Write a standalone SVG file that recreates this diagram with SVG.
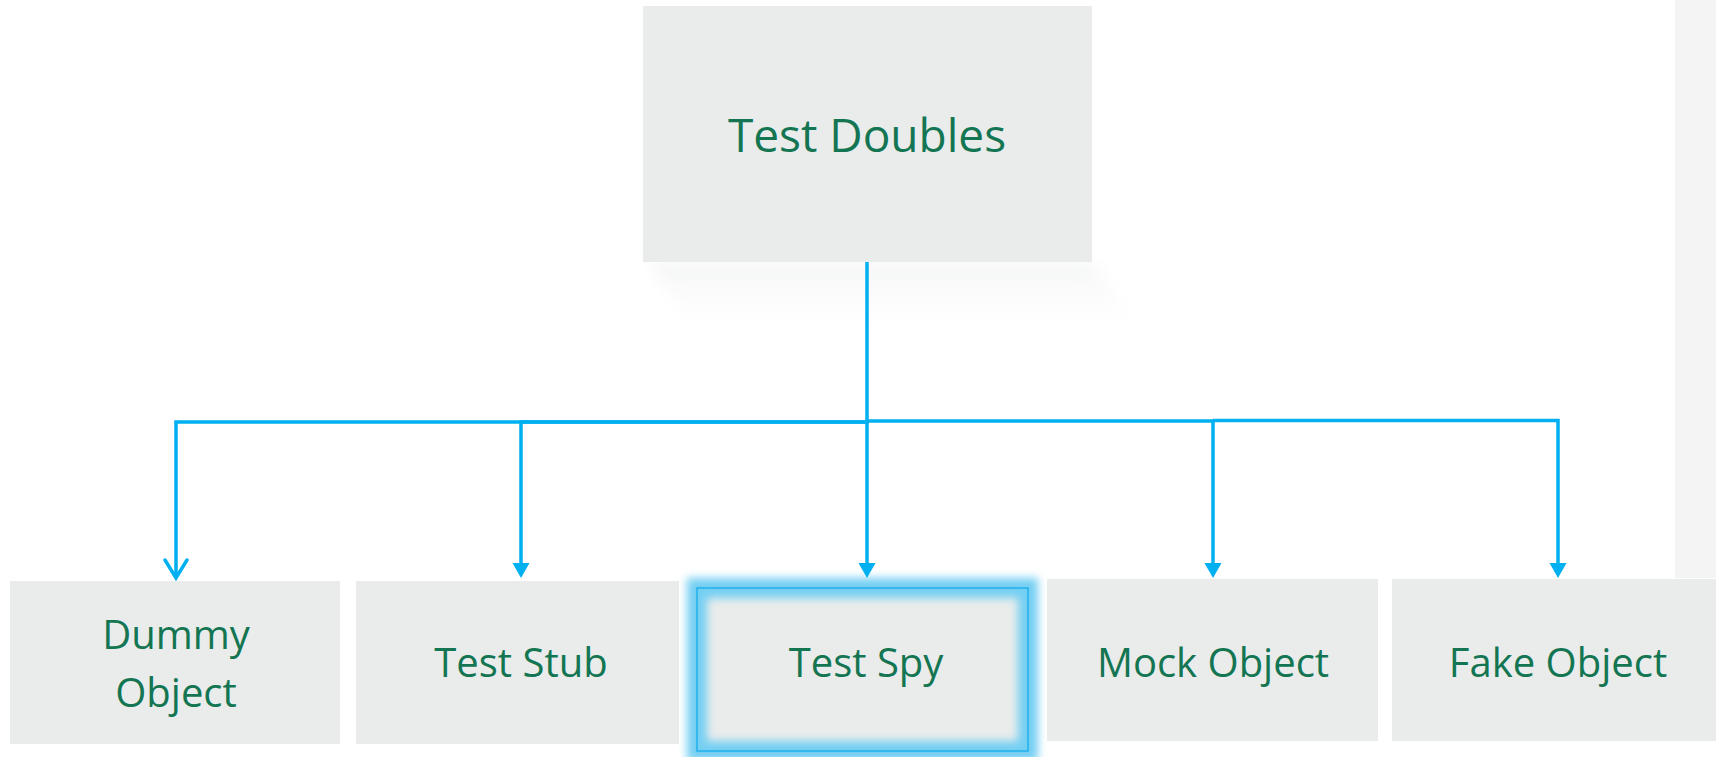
<svg xmlns="http://www.w3.org/2000/svg" width="1716" height="757" viewBox="0 0 1716 757">
  <style>
    .box { fill: #E9ECEB; }
    .label { font-family: "Open Sans", "Noto Sans", sans-serif; fill: #137552; text-anchor: middle; }
    .big { font-size: 46px; }
    .small { font-size: 40px; }
    .wire { fill: none; stroke: #00B0F0; stroke-width: 3.5; stroke-linejoin: miter; }
  </style>
  <defs>
    <!-- filled arrowhead, drawn along +x so orient="auto" points it down the wire -->
    <marker id="tri" markerUnits="userSpaceOnUse" markerWidth="17" markerHeight="18" refX="1" refY="8.5" orient="auto" viewBox="0 0 17 18">
      <path d="M0 0 L15 8.5 L0 17 Z" fill="#00B0F0"/>
    </marker>
    <linearGradient id="shade" x1="0" y1="0" x2="0" y2="1">
      <stop offset="0" stop-color="#F3F4F4"/>
      <stop offset="1" stop-color="#FFFFFF" stop-opacity="0"/>
    </linearGradient>
    <filter id="soft" x="-10%" y="-30%" width="120%" height="160%">
      <feGaussianBlur stdDeviation="8"/>
    </filter>
    <filter id="glow" x="-10%" y="-20%" width="120%" height="140%">
      <feGaussianBlur stdDeviation="4"/>
    </filter>
  </defs>

  <rect width="1716" height="757" fill="#FFFFFF"/>
  <!-- side panel strip -->
  <rect x="1675" y="0" width="41" height="578" fill="#F4F4F4"/>

  <!-- soft floor shadow below the root -->
  <path d="M650 262 L1090 262 L1150 335 L690 335 Z" fill="url(#shade)" filter="url(#soft)"/>

  <g id="node-test-doubles">
    <rect class="box" x="643" y="6" width="449" height="256"/>
    <text class="label big" x="867" y="152">Test Doubles</text>
  </g>

  <g id="node-dummy-object">
    <rect class="box" x="10" y="581" width="330" height="163"/>
    <text class="label small" x="176" y="649">Dummy</text>
    <text class="label small" x="176" y="707">Object</text>
  </g>

  <g id="node-test-stub">
    <rect class="box" x="356" y="581" width="323" height="163"/>
    <text class="label small" x="521" y="677">Test Stub</text>
  </g>

  <g id="node-test-spy">
    <rect class="box" x="697" y="588" width="331" height="163"/>
    <rect x="697" y="588" width="331" height="163" fill="none" stroke="#74CFF3" stroke-width="20" filter="url(#glow)"/>
    <rect x="697" y="588" width="331" height="163" fill="none" stroke="#1FB1EC" stroke-width="1.5"/>
    <text class="label small" x="866" y="677">Test Spy</text>
  </g>

  <g id="node-mock-object">
    <rect class="box" x="1047" y="579" width="331" height="162"/>
    <text class="label small" x="1213" y="677">Mock Object</text>
  </g>

  <g id="node-fake-object">
    <rect class="box" x="1392" y="579" width="324" height="162"/>
    <text class="label small" x="1558" y="677">Fake Object</text>
  </g>

  <g id="connectors">
    <path class="wire" d="M867 262 V422 H176 V578"/>
    <path d="M165 560 L176 578 L187 560" fill="none" stroke="#00B0F0" stroke-width="3.5" stroke-linecap="round" stroke-linejoin="miter"/>
    <path class="wire" d="M867 422 H521 V564" marker-end="url(#tri)"/>
    <path class="wire" d="M867 422 V564" marker-end="url(#tri)"/>
    <path class="wire" d="M867 421 H1213 V564" marker-end="url(#tri)"/>
    <path class="wire" d="M1213 420.5 H1558 V564" marker-end="url(#tri)"/>
  </g>
</svg>
